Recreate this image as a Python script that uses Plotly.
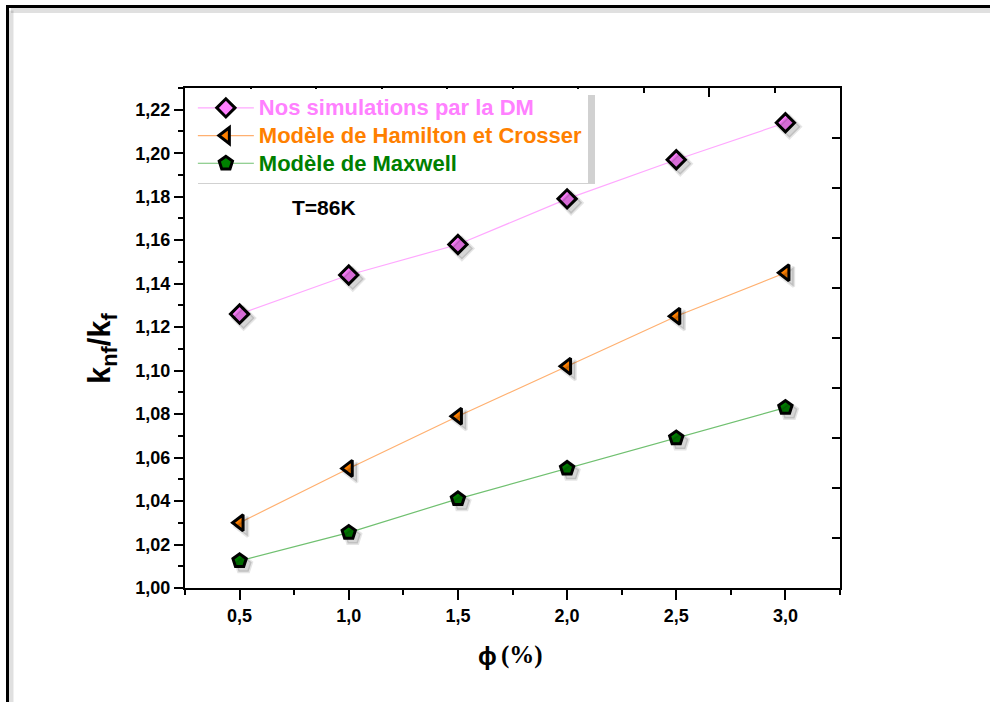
import plotly.graph_objects as go

phi = [0.5, 1.0, 1.5, 2.0, 2.5, 3.0]
sim_dm = [1.126, 1.144, 1.158, 1.179, 1.197, 1.214]
hamilton = [1.030, 1.055, 1.079, 1.102, 1.125, 1.145]
maxwell = [1.0125, 1.0255, 1.041, 1.055, 1.069, 1.083]

names = ["Nos simulations par la DM", "Modèle de Hamilton et Crosser", "Modèle de Maxwell"]
fill_colors = ["#FF80FF", "#FF8000", "#008000"]
line_colors = ["#FFA8FF", "#FFB070", "#70C070"]
symbols = ["diamond", "triangle-left", "pentagon"]
series = [sim_dm, hamilton, maxwell]

XR = [0.25, 3.25]
YR = [1.00, 1.23]
L, R, T, B = 185, 150, 88, 114
W, H = 990, 702
pw, ph = W - L - R, H - T - B
sx = 4 * (XR[1] - XR[0]) / pw
sy = 4 * (YR[1] - YR[0]) / ph

FONT = "Liberation Sans, Arial, sans-serif"
SERIF = "Liberation Serif, Times New Roman, serif"

fig = go.Figure()

# soft drop shadows of the markers
for ys, sym in zip(series, symbols):
    fig.add_trace(go.Scatter(x=phi, y=ys, mode="markers", xaxis="x3", yaxis="y3",
                             marker=dict(symbol=sym, size=17, color="rgba(0,0,0,0.16)",
                                         line=dict(width=3, color="rgba(0,0,0,0.10)")),
                             showlegend=False, hoverinfo="skip"))

for nm, ys, fc, lc, sym in zip(names, series, fill_colors, line_colors, symbols):
    fig.add_trace(go.Scatter(
        x=phi, y=ys, mode="lines+markers",
        name=f"<span style='color:{fc};font-size:22px'>{nm}</span>",
        line=dict(color=lc, width=1.2),
        marker=dict(symbol=sym, size=14, color=fc, line=dict(color="black", width=3)),
    ))

# invisible trace carrying the top/right tick axes
fig.add_trace(go.Scatter(x=[0], y=[0], xaxis="x2", yaxis="y2", mode="markers",
                         marker=dict(opacity=0), showlegend=False, hoverinfo="skip"))

tickfont = dict(family=FONT, size=18, color="black", weight="bold")

fig.update_layout(
    width=W, height=H,
    margin=dict(l=L, r=R, t=T, b=B),
    paper_bgcolor="white", plot_bgcolor="white",
    separators=",.",
    showlegend=True,
    xaxis=dict(range=XR, tick0=0.5, dtick=0.5, tickformat=".1f",
               ticks="outside", ticklen=10, tickwidth=2, tickcolor="black",
               minor=dict(dtick=0.25, tick0=0.25, ticks="outside", ticklen=5, tickwidth=2, tickcolor="black"),
               showline=True, linecolor="black", linewidth=2, showgrid=False, zeroline=False,
               tickfont=tickfont),
    yaxis=dict(range=YR, tick0=1.0, dtick=0.02, tickformat=".2f",
               ticks="outside", ticklen=9, tickwidth=2, tickcolor="black",
               minor=dict(dtick=0.01, tick0=1.0, ticks="outside", ticklen=5, tickwidth=2, tickcolor="black"),
               showline=True, linecolor="black", linewidth=2, showgrid=False, zeroline=False,
               tickfont=tickfont),
    xaxis2=dict(range=[0, 10], overlaying="x", side="top", dtick=2, tick0=0,
                ticks="inside", ticklen=9, tickwidth=2, tickcolor="black",
                minor=dict(dtick=1, ticks="inside", ticklen=5, tickwidth=2, tickcolor="black"),
                showticklabels=False, showline=True, linecolor="black", linewidth=2,
                showgrid=False, zeroline=False),
    yaxis2=dict(range=[0, 10], overlaying="y", side="right", dtick=1, tick0=0,
                ticks="inside", ticklen=8, tickwidth=2, tickcolor="black",
                showticklabels=False, showline=True, linecolor="black", linewidth=2,
                showgrid=False, zeroline=False),
    xaxis3=dict(range=[XR[0] - sx, XR[1] - sx], overlaying="x", visible=False),
    yaxis3=dict(range=[YR[0] + sy, YR[1] + sy], overlaying="y", visible=False),
    legend=dict(x=0.012, y=0.998, xanchor="left", yanchor="top",
                bgcolor="white", borderwidth=0, itemwidth=56,
                font=dict(family=FONT, size=19, weight="bold"),
                tracegroupgap=0),
)

def px_x(p):
    return (p - L) / pw

def px_y(p):
    return (H - B - p) / ph

shapes = [
    # legend shadow
    dict(type="rect", xref="paper", yref="paper",
         x0=px_x(198), x1=px_x(595), y0=px_y(184), y1=px_y(95),
         fillcolor="rgba(0,0,0,0.18)", line=dict(width=0), layer="above"),
    # outer frame shadow (top and left)
    dict(type="line", xref="paper", yref="paper",
         x0=px_x(11), x1=px_x(1400), y0=px_y(10.5), y1=px_y(10.5),
         line=dict(color="rgba(0,0,0,0.12)", width=5), layer="below"),
    dict(type="line", xref="paper", yref="paper",
         x0=px_x(11), x1=px_x(11), y0=px_y(10.5), y1=px_y(1400),
         line=dict(color="rgba(0,0,0,0.12)", width=5), layer="below"),
    # outer frame (top and left)
    dict(type="line", xref="paper", yref="paper",
         x0=px_x(6), x1=px_x(1400), y0=px_y(6.5), y1=px_y(6.5),
         line=dict(color="black", width=3), layer="below"),
    dict(type="line", xref="paper", yref="paper",
         x0=px_x(7.5), x1=px_x(7.5), y0=px_y(5), y1=px_y(1400),
         line=dict(color="black", width=3), layer="below"),
]
fig.update_layout(shapes=shapes)

annotations = [
    dict(text="T=86K", xref="paper", yref="paper", x=px_x(324), y=px_y(207),
         xanchor="center", yanchor="middle", showarrow=False,
         font=dict(family=FONT, size=21, color="black", weight="bold")),
    dict(text="k<sub>nf</sub>/k<sub>f</sub>", xref="paper", yref="paper",
         x=px_x(102), y=px_y(348), xanchor="center", yanchor="middle",
         textangle=-90, showarrow=False,
         font=dict(family=FONT, size=31, color="black", weight="bold")),
    dict(text="ϕ", xref="paper", yref="paper", x=px_x(487), y=px_y(656),
         xanchor="center", yanchor="middle", showarrow=False,
         font=dict(family=FONT, size=25, color="black", weight="bold")),
    dict(text="(%)", xref="paper", yref="paper", x=px_x(522), y=px_y(655),
         xanchor="center", yanchor="middle", showarrow=False,
         font=dict(family=SERIF, size=25, color="black", weight="bold")),
]
fig.update_layout(annotations=annotations)

fig.write_html("out.html")
